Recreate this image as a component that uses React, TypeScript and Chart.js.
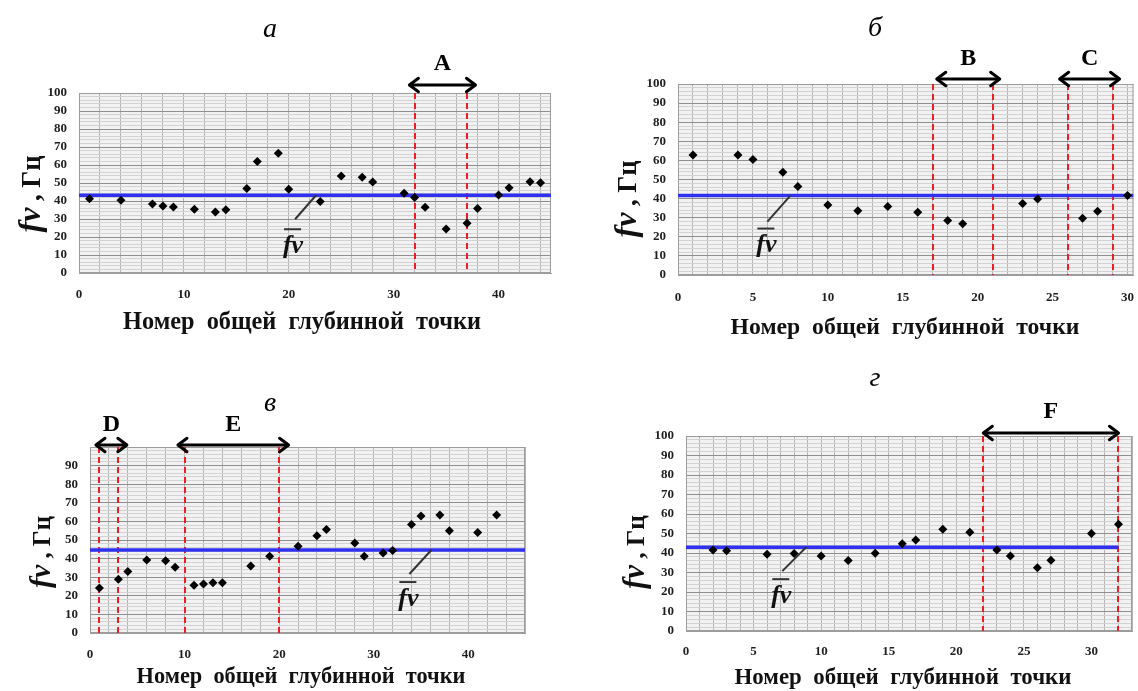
import React, { useEffect, useRef } from 'react';
import { Chart, registerables } from 'chart.js';

Chart.register(...registerables);

const SERIF = '"Liberation Serif", "Times New Roman", Times, serif';

const X_AXIS_TITLE = 'Номер  общей  глубинной  точки';
const Y_AXIS_SYMBOL = 'fv';
const Y_AXIS_UNIT = ' , Гц';
const MEAN_SYMBOL = 'fv';
const PANEL_LETTERS = ['а', 'б', 'в', 'г'];

// Panel а
const xA = [1, 4, 7, 8, 9, 11, 13, 14, 16, 17, 19, 20, 23, 25, 27, 28, 31, 32, 33, 35, 37, 38, 40, 41, 43, 44];
const yA = [41.2, 40.4, 38.3, 37.2, 36.7, 35.4, 33.9, 35.2, 47, 62, 66.5, 46.5, 39.7, 53.9, 53.2, 50.5, 44.3, 42, 36.5, 24.5, 27.6, 35.9, 43.4, 47.4, 50.7, 50.2];
const meanA = 43.2;
const boundsA = [32, 37];

// Panel б
const xB = [1, 4, 5, 7, 8, 10, 12, 14, 16, 18, 19, 23, 24, 27, 28, 30];
const yB = [62.8, 62.8, 60.5, 53.8, 46.3, 36.7, 33.7, 35.8, 32.9, 28.5, 26.8, 37.4, 39.8, 29.7, 33.4, 41.6];
const meanB = 41.6;
const boundsB = [17, 21, 26, 29];

// Panel в
const xC = [1, 3, 4, 6, 8, 9, 11, 12, 13, 14, 17, 19, 22, 24, 25, 28, 29, 31, 32, 34, 35, 37, 38, 41, 43];
const yC = [24.2, 28.9, 33, 39.2, 38.8, 35.4, 25.7, 26.3, 27, 27, 36, 41.2, 46.6, 52.3, 55.7, 48.4, 41.2, 43, 44.3, 58.4, 62.9, 63.4, 55, 54, 63.4];
const meanC = 44.6;
const boundsC = [1, 3, 10, 20];

// Panel г
const xD = [2, 3, 6, 8, 10, 12, 14, 16, 17, 19, 21, 23, 24, 26, 27, 30, 32];
const yD = [41.6, 41.1, 39.4, 39.7, 38.5, 36.1, 39.9, 44.7, 46.7, 52.2, 50.7, 41.6, 38.5, 32.4, 36.3, 50, 54.8];
const meanD = 43;
const boundsD = [22, 32];

type ArrowSpec = { from: number; to: number; label: string; y: number; labelY: number };

interface PanelSpec {
  letter: string;
  letterX: number;
  letterY: number;
  box: { left: number; top: number; width: number; height: number };
  plot: { left: number; top: number; right: number; bottom: number };
  xMax: number;
  xStep: number;
  xLabelEvery: number;
  showTop: boolean;
  xs: number[];
  ys: number[];
  mean: number;
  meanTo: number;
  bounds: number[];
  arrows: ArrowSpec[];
  xTickPad: number;
  xTitle: { x: number; y: number; w: number };
  yTitle: { x: number; y: number; len: number };
  fv: { at: number; dx: number; dy: number; tdx: number; tdy: number };
}

const PANELS: PanelSpec[] = [
  {
    letter: PANEL_LETTERS[0], letterX: 270, letterY: 30,
    box: { left: 0, top: 0, width: 569, height: 345 },
    plot: { left: 79, top: 93, right: 551, bottom: 273 },
    xMax: 45, xStep: 2, xLabelEvery: 10, showTop: true,
    xs: xA, ys: yA, mean: meanA, meanTo: 45, bounds: boundsA,
    arrows: [{ from: 31.5, to: 37.8, label: 'A', y: 85, labelY: 64 }],
    xTickPad: 14,
    xTitle: { x: 302, y: 323, w: 358 },
    yTitle: { x: 31, y: 194, len: 77 },
    fv: { at: 22.6, dx: -21, dy: 24, tdx: -2, tdy: 27 },
  },
  {
    letter: PANEL_LETTERS[1], letterX: 875, letterY: 29,
    box: { left: 569, top: 0, width: 569, height: 345 },
    plot: { left: 678, top: 84, right: 1134, bottom: 275 },
    xMax: 30.4, xStep: 1, xLabelEvery: 5, showTop: true,
    xs: xB, ys: yB, mean: meanB, meanTo: 30.4, bounds: boundsB,
    arrows: [
      { from: 17.27, to: 21.47, label: 'B', y: 79, labelY: 59 },
      { from: 25.47, to: 29.47, label: 'C', y: 79, labelY: 59 },
    ],
    xTickPad: 15,
    xTitle: { x: 905, y: 328, w: 349 },
    yTitle: { x: 627, y: 199, len: 77 },
    fv: { at: 7.5, dx: -23, dy: 26, tdx: -1, tdy: 24 },
  },
  {
    letter: PANEL_LETTERS[2], letterX: 270, letterY: 404,
    box: { left: 0, top: 345, width: 569, height: 346 },
    plot: { left: 90, top: 447, right: 525, bottom: 633 },
    xMax: 46, xStep: 2, xLabelEvery: 10, showTop: false,
    xs: xC, ys: yC, mean: meanC, meanTo: 46, bounds: boundsC,
    arrows: [
      { from: 0.63, to: 3.9, label: 'D', y: 445, labelY: 425 },
      { from: 9.3, to: 21.0, label: 'E', y: 445, labelY: 425 },
    ],
    xTickPad: 14,
    xTitle: { x: 301, y: 677, w: 329 },
    yTitle: { x: 41, y: 552, len: 72 },
    fv: { at: 36.1, dx: -22, dy: 24, tdx: -1, tdy: 25 },
  },
  {
    letter: PANEL_LETTERS[3], letterX: 875, letterY: 379,
    box: { left: 569, top: 345, width: 569, height: 346 },
    plot: { left: 686, top: 436, right: 1132, bottom: 631 },
    xMax: 33, xStep: 1, xLabelEvery: 5, showTop: true,
    xs: xD, ys: yD, mean: meanD, meanTo: 32, bounds: boundsD,
    arrows: [{ from: 22, to: 32, label: 'F', y: 433, labelY: 412 }],
    xTickPad: 13,
    xTitle: { x: 903, y: 678, w: 337 },
    yTitle: { x: 635, y: 552, len: 74 },
    fv: { at: 8.9, dx: -24, dy: 24, tdx: -1, tdy: 25 },
  },
];

function drawArrow(ctx: CanvasRenderingContext2D, x1: number, x2: number, y: number) {
  ctx.save();
  ctx.strokeStyle = '#000';
  ctx.lineWidth = 3;
  ctx.lineCap = 'round';
  ctx.lineJoin = 'round';
  ctx.beginPath();
  ctx.moveTo(x1 + 1, y);
  ctx.lineTo(x2 - 1, y);
  ctx.stroke();
  const h = 9;
  ctx.beginPath();
  ctx.moveTo(x1 + h, y - h * 0.75);
  ctx.lineTo(x1, y);
  ctx.lineTo(x1 + h, y + h * 0.75);
  ctx.stroke();
  ctx.beginPath();
  ctx.moveTo(x2 - h, y - h * 0.75);
  ctx.lineTo(x2, y);
  ctx.lineTo(x2 - h, y + h * 0.75);
  ctx.stroke();
  ctx.restore();
}

function makePlugin(spec: PanelSpec) {
  const ox = spec.box.left;
  const oy = spec.box.top;
  return {
    id: 'decor',
    beforeDraw(chart: any) {
      const { ctx, chartArea: a } = chart;
      ctx.save();
      ctx.fillStyle = '#f2f2f2';
      ctx.fillRect(a.left, a.top, a.right - a.left, a.bottom - a.top);
      ctx.restore();
    },
    beforeDatasetsDraw(chart: any) {
      const { ctx, chartArea: a } = chart;
      const sx = chart.scales.x;
      ctx.save();
      ctx.strokeStyle = '#9c9c9c';
      ctx.lineWidth = 1;
      ctx.strokeRect(a.left + 0.5, a.top + 0.5, a.right - a.left - 1, a.bottom - a.top - 1);
      ctx.strokeStyle = '#ee1c24';
      ctx.lineWidth = 2;
      ctx.setLineDash([6, 4]);
      for (const b of spec.bounds) {
        const x = Math.round(sx.getPixelForValue(b));
        ctx.beginPath();
        ctx.moveTo(x, a.top);
        ctx.lineTo(x, a.bottom);
        ctx.stroke();
      }
      ctx.restore();
    },
    afterDraw(chart: any) {
      const ctx: CanvasRenderingContext2D = chart.ctx;
      const sx = chart.scales.x;
      const sy = chart.scales.y;
      ctx.save();
      ctx.fillStyle = '#000';
      ctx.textAlign = 'center';
      ctx.textBaseline = 'middle';
      // panel letter
      ctx.font = `italic 28px ${SERIF}`;
      ctx.fillText(spec.letter, spec.letterX - ox, spec.letterY - oy);
      // arrows
      for (const ar of spec.arrows) {
        const x1 = sx.getPixelForValue(ar.from);
        const x2 = sx.getPixelForValue(ar.to);
        drawArrow(ctx, x1, x2, ar.y - oy);
        ctx.font = `bold 24px ${SERIF}`;
        ctx.fillStyle = '#000';
        ctx.fillText(ar.label, (x1 + x2) / 2, ar.labelY - oy);
      }
      // x title
      ctx.font = `bold 20px ${SERIF}`;
      const w0 = ctx.measureText(X_AXIS_TITLE).width;
      const fs = (20 * spec.xTitle.w) / w0;
      ctx.font = `bold ${fs.toFixed(2)}px ${SERIF}`;
      ctx.fillStyle = '#111';
      ctx.fillText(X_AXIS_TITLE, spec.xTitle.x - ox, spec.xTitle.y - oy);
      // y title
      ctx.save();
      ctx.translate(spec.yTitle.x - ox, spec.yTitle.y - oy);
      ctx.rotate(-Math.PI / 2);
      let s1 = 24;
      let s2 = 20;
      ctx.font = `italic bold ${s1}px ${SERIF}`;
      let w1 = ctx.measureText(Y_AXIS_SYMBOL).width;
      ctx.font = `bold ${s2}px ${SERIF}`;
      let w2 = ctx.measureText(Y_AXIS_UNIT).width;
      const k = spec.yTitle.len / (w1 + w2);
      s1 *= k;
      s2 *= k;
      w1 *= k;
      w2 *= k;
      const start = -(w1 + w2) / 2;
      ctx.textAlign = 'left';
      ctx.textBaseline = 'alphabetic';
      ctx.fillStyle = '#111';
      ctx.font = `italic bold ${s1.toFixed(2)}px ${SERIF}`;
      ctx.fillText(Y_AXIS_SYMBOL, start, s2 * 0.35);
      ctx.font = `bold ${s2.toFixed(2)}px ${SERIF}`;
      ctx.fillText(Y_AXIS_UNIT, start + w1, s2 * 0.35);
      ctx.restore();
      // mean label with leader
      const fx = sx.getPixelForValue(spec.fv.at);
      const fy = sy.getPixelForValue(spec.mean);
      const ex = fx + spec.fv.dx;
      const ey = fy + spec.fv.dy;
      ctx.strokeStyle = '#333';
      ctx.lineWidth = 2;
      ctx.beginPath();
      ctx.moveTo(fx, fy);
      ctx.lineTo(ex, ey);
      ctx.stroke();
      const tx = ex + spec.fv.tdx;
      const ty = ey + spec.fv.tdy;
      ctx.font = `italic bold 26px ${SERIF}`;
      ctx.textAlign = 'center';
      ctx.textBaseline = 'middle';
      ctx.fillStyle = '#111';
      ctx.fillText(MEAN_SYMBOL, tx, ty);
      ctx.lineWidth = 2;
      ctx.beginPath();
      ctx.moveTo(tx - 9, ty - 17);
      ctx.lineTo(tx + 8, ty - 17);
      ctx.stroke();
      ctx.restore();
    },
  };
}

function buildConfig(spec: PanelSpec): any {
  const l = spec.plot.left - spec.box.left;
  const t = spec.plot.top - spec.box.top;
  const r = spec.plot.right - spec.box.left;
  const b = spec.plot.bottom - spec.box.top;
  const tickFont = { family: SERIF, size: 13, weight: 'bold' as const };
  return {
    type: 'scatter',
    data: {
      datasets: [
        {
          type: 'scatter',
          data: spec.xs.map((x, i) => ({ x, y: spec.ys[i] })),
          pointStyle: 'rectRot',
          pointRadius: 4.5,
          backgroundColor: '#000',
          borderColor: '#000',
          borderWidth: 0,
        },
        {
          type: 'line',
          data: [
            { x: 0, y: spec.mean },
            { x: spec.meanTo, y: spec.mean },
          ],
          borderColor: '#3030f0',
          borderWidth: 3.5,
          pointRadius: 0,
          fill: false,
          tension: 0,
        },
      ],
    },
    options: {
      responsive: false,
      animation: false,
      devicePixelRatio: 1,
      events: [],
      layout: { padding: { left: 0, top: t, right: spec.box.width - r, bottom: 0 } },
      plugins: {
        legend: { display: false },
        tooltip: { enabled: false },
        title: { display: false },
      },
      scales: {
        x: {
          type: 'linear',
          position: 'bottom',
          min: 0,
          max: spec.xMax,
          afterFit: (s: any) => {
            s.height = spec.box.height - b;
            s.paddingLeft = 0;
            s.paddingRight = 0;
          },
          ticks: {
            stepSize: spec.xStep,
            maxTicksLimit: 1000,
            autoSkip: false,
            includeBounds: false,
            maxRotation: 0,
            minRotation: 0,
            padding: spec.xTickPad,
            color: '#1e1e1e',
            font: tickFont,
            callback: (v: any) => {
              const n = Number(v);
              return Math.abs(n / spec.xLabelEvery - Math.round(n / spec.xLabelEvery)) < 1e-6 ? String(n) : '';
            },
          },
          grid: { color: '#b3b3b3', lineWidth: 1, drawTicks: false },
          border: { display: true, color: '#9c9c9c' },
        },
        y: {
          type: 'linear',
          min: 0,
          max: 100,
          afterFit: (s: any) => {
            s.width = l;
            s.paddingTop = 0;
            s.paddingBottom = 0;
          },
          ticks: {
            stepSize: 2,
            maxTicksLimit: 1000,
            autoSkip: false,
            includeBounds: false,
            padding: 12,
            color: '#1e1e1e',
            font: tickFont,
            callback: (v: any) => {
              const n = Number(v);
              if (n % 10 !== 0) return '';
              if (n === 100 && !spec.showTop) return '';
              return String(n);
            },
          },
          grid: {
            color: (c: any) => (c.tick && c.tick.value % 10 === 0 ? '#8e8e8e' : '#d3d3d3'),
            lineWidth: 1,
            drawTicks: false,
          },
          border: { display: true, color: '#9c9c9c' },
        },
      },
    },
    plugins: [makePlugin(spec)],
  };
}

function Panel({ spec }: { spec: PanelSpec }) {
  const ref = useRef<HTMLCanvasElement>(null);
  useEffect(() => {
    if (!ref.current) return;
    const chart = new Chart(ref.current, buildConfig(spec));
    return () => chart.destroy();
  }, [spec]);
  return (
    <canvas
      ref={ref}
      width={spec.box.width}
      height={spec.box.height}
      style={{
        position: 'absolute',
        left: spec.box.left,
        top: spec.box.top,
        width: spec.box.width,
        height: spec.box.height,
      }}
    />
  );
}

export default function App() {
  return (
    <div style={{ position: 'absolute', left: 0, top: 0, width: 1138, height: 691, background: '#fff', overflow: 'hidden' }}>
      {PANELS.map((p, i) => (
        <Panel key={i} spec={p} />
      ))}
    </div>
  );
}
